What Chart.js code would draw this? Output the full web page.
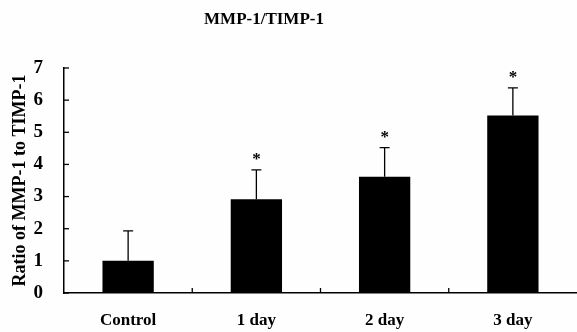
<!DOCTYPE html>
<html lang="en">
<head>
    <meta charset="UTF-8">
    <title>MMP-1/TIMP-1</title>
    <script src="https://cdn.jsdelivr.net/npm/chart.js@4/dist/chart.umd.min.js"></script>
    <style>
        html, body { margin: 0; padding: 0; background: #fefefe; }
        #wrap { width: 577px; height: 332px; position: relative; }
    </style>
</head>
<body>
    <div id="wrap"><canvas id="barChart"></canvas></div>

<script>
    const categories = ['Control', '1 day', '2 day', '3 day'];
    const ratios = [1.0, 2.92, 3.62, 5.52];
    const errorTops = [1.93, 3.83, 4.52, 6.38];
    const significant = [false, true, true, true];
    const yTicks = [0, 1, 2, 3, 4, 5, 6, 7];

    const serif = '"Liberation Serif", "Times New Roman", serif';

    // error bars, asterisks, inner tick marks and the title
    const extras = {
        id: 'extras',
        afterDatasetsDraw(chart) {
            const ctx = chart.ctx;
            const x = chart.scales.x;
            const y = chart.scales.y;
            const area = chart.chartArea;
            const bars = chart.getDatasetMeta(0).data;

            ctx.save();
            ctx.strokeStyle = '#000';
            ctx.fillStyle = '#000';
            ctx.lineWidth = 1.3;

            bars.forEach((bar, i) => {
                const top = y.getPixelForValue(errorTops[i]);
                ctx.beginPath();
                ctx.moveTo(bar.x, bar.y);
                ctx.lineTo(bar.x, top);
                ctx.moveTo(bar.x - 5, top);
                ctx.lineTo(bar.x + 5, top);
                ctx.stroke();
                if (significant[i]) {
                    ctx.font = 'bold 17px ' + serif;
                    ctx.textAlign = 'center';
                    ctx.textBaseline = 'middle';
                    ctx.fillText('*', bar.x, top - 10);
                }
            });

            // y ticks pointing inward
            yTicks.forEach(v => {
                const py = y.getPixelForValue(v);
                ctx.beginPath();
                ctx.moveTo(area.left, py);
                ctx.lineTo(area.left + 5, py);
                ctx.stroke();
            });

            // x ticks between categories, pointing up
            for (let i = 1; i < categories.length; i++) {
                const px = (x.getPixelForValue(i - 1) + x.getPixelForValue(i)) / 2;
                ctx.beginPath();
                ctx.moveTo(px, area.bottom);
                ctx.lineTo(px, area.bottom - 5);
                ctx.stroke();
            }

            ctx.font = 'bold 17px ' + serif;
            ctx.textAlign = 'center';
            ctx.textBaseline = 'middle';
            ctx.fillText('MMP-1/TIMP-1', 264, 20);
            ctx.restore();
        }
    };

    new Chart(document.getElementById('barChart'), {
        type: 'bar',
        data: {
            labels: categories,
            datasets: [{
                data: ratios,
                backgroundColor: '#000',
                borderWidth: 0,
                categoryPercentage: 1.0,
                barPercentage: 0.4
            }]
        },
        options: {
            responsive: true,
            maintainAspectRatio: false,
            animation: false,
            layout: { padding: { top: 68, right: 0, left: 0, bottom: 0 } },
            plugins: {
                legend: { display: false },
                tooltip: { enabled: false }
            },
            scales: {
                x: {
                    grid: { display: false, drawTicks: false },
                    border: { display: true, color: '#000', width: 1.5 },
                    ticks: {
                        color: '#000',
                        padding: 17,
                        font: { family: serif, weight: 'bold', size: 17 }
                    },
                    afterFit(scale) { scale.height = 39; }
                },
                y: {
                    min: 0,
                    max: 7,
                    grid: { display: false, drawTicks: false },
                    border: { display: true, color: '#000', width: 1.5 },
                    ticks: {
                        stepSize: 1,
                        color: '#000',
                        padding: 21,
                        font: { family: serif, weight: 'bold', size: 19 }
                    },
                    title: {
                        display: true,
                        text: 'Ratio of MMP-1 to TIMP-1',
                        color: '#000',
                        padding: { top: 10, bottom: 0 },
                        font: { family: serif, weight: 'bold', size: 18 }
                    },
                    afterFit(scale) { scale.width = 64; }
                }
            }
        },
        plugins: [extras]
    });
</script>
</body>
</html>
